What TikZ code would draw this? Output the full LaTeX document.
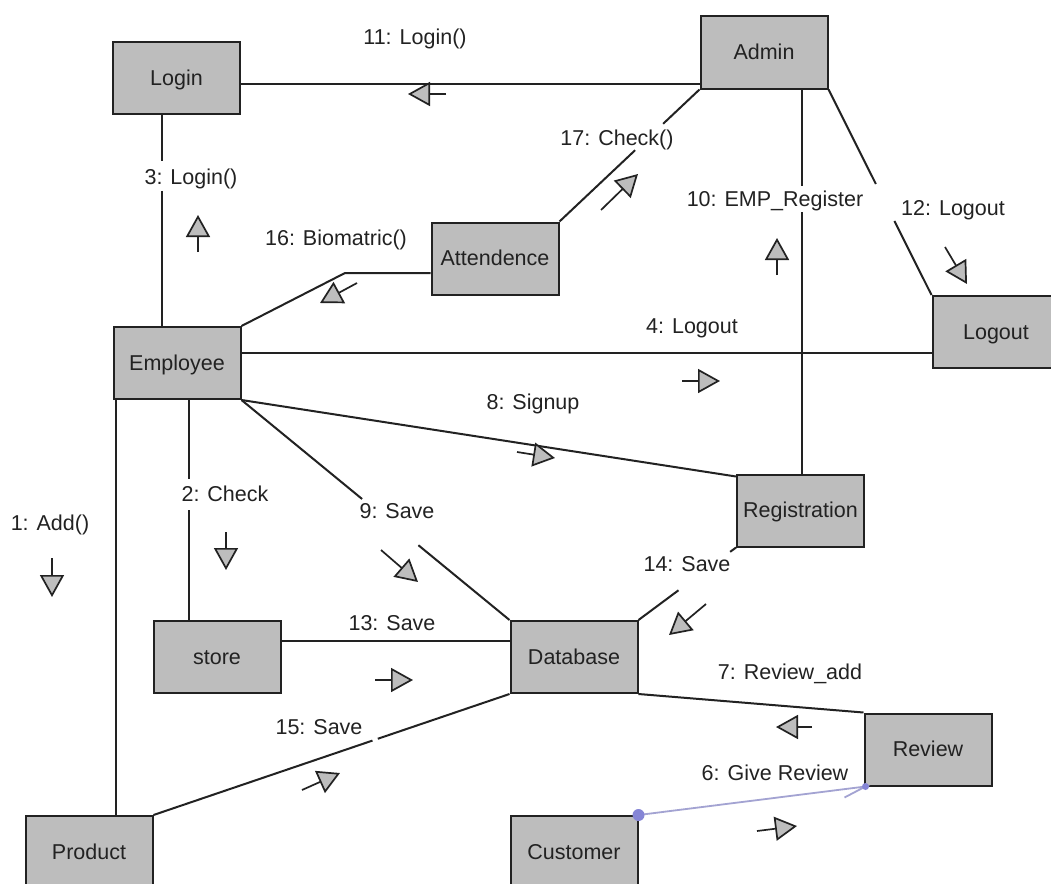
\documentclass[tikz,border=0pt]{standalone}
\usepackage{fontspec}
\setmainfont{Liberation Sans}
\usetikzlibrary{calc,arrows.meta}
\definecolor{boxgray}{HTML}{BDBDBD}
\definecolor{inkc}{HTML}{222222}
\definecolor{bluedot}{HTML}{8585D6}
\definecolor{blueline}{HTML}{A3A3D2}
\tikzset{
  objbox/.style={draw=inkc,fill=boxgray,line width=2pt,minimum width=127pt,minimum height=72pt,inner sep=0pt,font=\fontsize{21.5}{24}\selectfont,text=inkc,text height=17pt,text depth=3pt},
  link/.style={draw=inkc,line width=2pt},
  msgarrow/.style={draw=inkc,line width=1.7pt,-{Triangle[length=22pt,width=24pt,fill=boxgray]}},
  msglabel/.style={inner sep=0pt,font=\fontsize{21.5}{24}\selectfont,text=inkc,text height=17pt,text depth=3pt}
}
\newcommand{\gapline}[4]{%
  \draw[link] (#1) -- ($(#1)!#3!(#2)$);
  \draw[link] ($(#1)!#4!(#2)$) -- (#2);}
\newcommand{\msgar}[3]{%
  \coordinate (#1t) at (#2);
  \coordinate (#1h) at (#3);
  \draw[msgarrow] (#1t) -- (#1h);}
\begin{document}
\begin{tikzpicture}[x=1pt,y=-1pt]
\useasboundingbox (0,0) rectangle (1051,883);
\clip (0,0) rectangle (1051,883);
\fill[white] (0,0) rectangle (1051,883);
\node[objbox] (login) at (176.5,78) {Login};
\node[objbox] (admin) at (764,52.5) {Admin};
\node[objbox] (att) at (495,258.5) {Attendence};
\node[objbox] (emp) at (177,363) {Employee};
\node[objbox] (logout) at (996,332) {Logout};
\node[objbox] (reg) at (800.5,510.5) {Registration};
\node[objbox] (store) at (217,657) {store};
\node[objbox] (db) at (574,657) {Database};
\node[objbox] (review) at (928,749.5) {Review};
\node[objbox] (product) at (89,852) {Product};
\node[objbox] (customer) at (574,852) {Customer};
% Login - Admin
\draw[link] ([yshift=-6pt]login.east) -- ([yshift=-31.5pt]admin.west);
% Login - Employee
\coordinate (la) at ([xshift=-14.5pt]login.south);
\coordinate (lb) at ([xshift=-15pt]emp.north);
\gapline{la}{lb}{.22}{.36}
% Admin - Attendence
\gapline{admin.south west}{att.north east}{.26}{.46}
% Admin - Registration
\coordinate (ra) at ([xshift=38pt]admin.south);
\coordinate (rb) at ([xshift=1.5pt]reg.north);
\gapline{ra}{rb}{.25}{.32}
% Admin - Logout
\gapline{admin.south east}{logout.north west}{.46}{.64}
% Employee - Attendence
\coordinate (bend) at (345,273);
\draw[link] (emp.north east) -- (bend) -- ([yshift=-14.5pt]att.west);
% Employee - Logout
\draw[link] ([yshift=10pt]emp.east) -- ([yshift=-21pt]logout.west);
% Employee - Registration
\draw[link] (emp.south east) -- ([yshift=-3pt,xshift=0pt]reg.north west);
% Employee - Database
\gapline{emp.south east}{db.north west}{.45}{.66}
% Employee - store
\coordinate (sa) at ([xshift=12pt]emp.south);
\coordinate (sb) at ([xshift=-28pt]store.north);
\gapline{sa}{sb}{.36}{.5}
% Employee - Product
\coordinate (pa) at ([xshift=-61pt]emp.south);
\coordinate (pb) at ([xshift=27pt]product.north);
\draw[link] (pa) -- (pb);
% store - Database
\draw[link] ([yshift=16pt]store.east) -- ([yshift=16pt]db.west);
% Database - Registration
\gapline{db.north east}{reg.south west}{.41}{.94}
% Database - Product
\gapline{db.south west}{product.north east}{.37}{.385}
% Database - Review
\draw[link] (db.south east) -- (review.north west);
% Customer - Review
\coordinate (cr) at ([xshift=2pt]review.south west);
\coordinate (cs) at ($(cr)+(-21,11)$);
\draw[blueline,line width=1.8pt] (customer.north east) -- (cr) -- (cs);
\fill[bluedot] (customer.north east) circle (6pt);
\fill[bluedot] (cr) circle (3.5pt);
% message arrows
\msgar{m1}{52,558}{52,597}
\msgar{m2}{226,532}{226,570}
\msgar{m3}{198,252}{198,215}
\msgar{m4}{682,381}{720,381}
\msgar{m6}{757,831}{797,826}
\msgar{m7}{812,727}{776,727}
\msgar{m8}{517,452}{555,458}
\msgar{m9}{381,550}{418,582}
\msgar{m10}{777,275}{777,238}
\msgar{m11}{446,94}{408,94}
\msgar{m12}{945,247}{967,284}
\msgar{m13}{375,680}{413,680}
\msgar{m14}{706,604}{669,635}
\msgar{m15}{302,790}{340,773}
\msgar{m16}{357,283}{320,303}
\msgar{m17}{601,210}{638,174}
% message labels
\node[msglabel] (t1) at (50,523) {1: Add()};
\node[msglabel] (t2) at (225,494) {2: Check};
\node[msglabel] (t3) at (191,177) {3: Login()};
\node[msglabel] (t4) at (692,326) {4: Logout};
\node[msglabel] (t6) at (775,773) {6: Give Review};
\node[msglabel] (t7) at (790,672) {7: Review\_add};
\node[msglabel] (t8) at (533,402) {8: Signup};
\node[msglabel] (t9) at (397,511) {9: Save};
\node[msglabel] (t10) at (775,199) {10: EMP\_Register};
\node[msglabel] (t11) at (415,38) {11: Login()};
\node[msglabel] (t12) at (953,208) {12: Logout};
\node[msglabel] (t13) at (392,623) {13: Save};
\node[msglabel] (t14) at (687,564) {14: Save};
\node[msglabel] (t15) at (319,727) {15: Save};
\node[msglabel] (t16) at (336,238) {16: Biomatric()};
\node[msglabel] (t17) at (617,138) {17: Check()};
\end{tikzpicture}
\end{document}
